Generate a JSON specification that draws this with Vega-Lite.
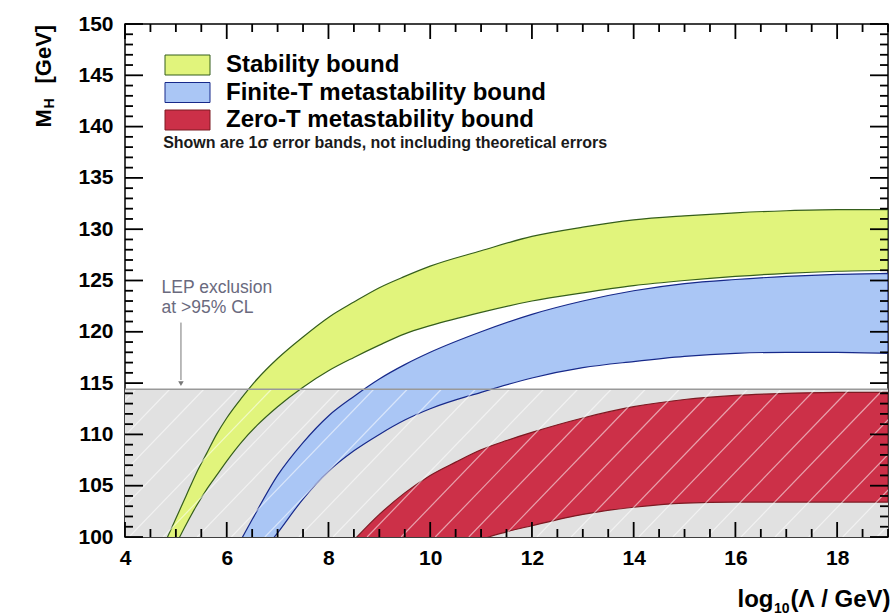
{
  "$schema": "https://vega.github.io/schema/vega-lite/v6.json",
  "width": 763,
  "height": 513,
  "autosize": {"type": "none"},
  "padding": {"left": 125, "top": 24, "right": 5, "bottom": 77},
  "background": "white",
  "config": {
    "font": "Liberation Sans",
    "view": {"stroke": "black", "strokeWidth": 1.5},
    "axis": {
      "labelFont": "Liberation Sans",
      "labelFontWeight": "bold",
      "labelFontSize": 21,
      "labelColor": "black",
      "titleFont": "Liberation Sans",
      "titleFontWeight": "bold",
      "titleFontSize": 22,
      "titleColor": "black",
      "domain": false,
      "grid": false,
      "ticks": false,
      "labelFlush": false,
      "labelOverlap": false,
      "labelBound": false,
      "zindex": 1
    }
  },
  "datasets": {
    "bands": [
      {"bound": "Stability bound", "log10_lambda": 4.8, "mh_low": 97.5, "mh_high": 99.6},
      {"bound": "Stability bound", "log10_lambda": 5.0, "mh_low": 99.3, "mh_high": 101.8},
      {"bound": "Stability bound", "log10_lambda": 5.2, "mh_low": 101.2, "mh_high": 104.0},
      {"bound": "Stability bound", "log10_lambda": 5.4, "mh_low": 103.0, "mh_high": 106.2},
      {"bound": "Stability bound", "log10_lambda": 5.6, "mh_low": 104.6, "mh_high": 108.1},
      {"bound": "Stability bound", "log10_lambda": 5.8, "mh_low": 106.0, "mh_high": 110.0},
      {"bound": "Stability bound", "log10_lambda": 6.0, "mh_low": 107.4, "mh_high": 111.6},
      {"bound": "Stability bound", "log10_lambda": 6.3, "mh_low": 109.3, "mh_high": 113.6},
      {"bound": "Stability bound", "log10_lambda": 6.6, "mh_low": 110.9, "mh_high": 115.4},
      {"bound": "Stability bound", "log10_lambda": 7.0, "mh_low": 112.7, "mh_high": 117.4},
      {"bound": "Stability bound", "log10_lambda": 7.5, "mh_low": 114.6, "mh_high": 119.5},
      {"bound": "Stability bound", "log10_lambda": 8.0, "mh_low": 116.2, "mh_high": 121.4},
      {"bound": "Stability bound", "log10_lambda": 8.5, "mh_low": 117.5, "mh_high": 122.9},
      {"bound": "Stability bound", "log10_lambda": 9.0, "mh_low": 118.7, "mh_high": 124.3},
      {"bound": "Stability bound", "log10_lambda": 9.5, "mh_low": 119.8, "mh_high": 125.4},
      {"bound": "Stability bound", "log10_lambda": 10.0, "mh_low": 120.6, "mh_high": 126.4},
      {"bound": "Stability bound", "log10_lambda": 11.0, "mh_low": 121.9, "mh_high": 127.9},
      {"bound": "Stability bound", "log10_lambda": 12.0, "mh_low": 123.0, "mh_high": 129.3},
      {"bound": "Stability bound", "log10_lambda": 13.0, "mh_low": 123.8, "mh_high": 130.2},
      {"bound": "Stability bound", "log10_lambda": 14.0, "mh_low": 124.5, "mh_high": 130.9},
      {"bound": "Stability bound", "log10_lambda": 15.0, "mh_low": 125.0, "mh_high": 131.3},
      {"bound": "Stability bound", "log10_lambda": 16.0, "mh_low": 125.4, "mh_high": 131.6},
      {"bound": "Stability bound", "log10_lambda": 17.0, "mh_low": 125.7, "mh_high": 131.8},
      {"bound": "Stability bound", "log10_lambda": 18.0, "mh_low": 125.9, "mh_high": 131.9},
      {"bound": "Stability bound", "log10_lambda": 19.0, "mh_low": 126.0, "mh_high": 131.9},
      {"bound": "Finite-T metastability bound", "log10_lambda": 6.3, "mh_low": 95.5, "mh_high": 99.9},
      {"bound": "Finite-T metastability bound", "log10_lambda": 6.5, "mh_low": 97.2, "mh_high": 101.7},
      {"bound": "Finite-T metastability bound", "log10_lambda": 7.0, "mh_low": 100.4, "mh_high": 106.0},
      {"bound": "Finite-T metastability bound", "log10_lambda": 7.5, "mh_low": 103.7, "mh_high": 109.2},
      {"bound": "Finite-T metastability bound", "log10_lambda": 8.0, "mh_low": 106.4, "mh_high": 111.8},
      {"bound": "Finite-T metastability bound", "log10_lambda": 8.5, "mh_low": 108.4, "mh_high": 113.7},
      {"bound": "Finite-T metastability bound", "log10_lambda": 9.0, "mh_low": 110.0, "mh_high": 115.4},
      {"bound": "Finite-T metastability bound", "log10_lambda": 9.5, "mh_low": 111.4, "mh_high": 116.8},
      {"bound": "Finite-T metastability bound", "log10_lambda": 10.0, "mh_low": 112.5, "mh_high": 118.0},
      {"bound": "Finite-T metastability bound", "log10_lambda": 11.0, "mh_low": 114.1, "mh_high": 120.0},
      {"bound": "Finite-T metastability bound", "log10_lambda": 12.0, "mh_low": 115.5, "mh_high": 121.7},
      {"bound": "Finite-T metastability bound", "log10_lambda": 13.0, "mh_low": 116.5, "mh_high": 123.0},
      {"bound": "Finite-T metastability bound", "log10_lambda": 14.0, "mh_low": 117.1, "mh_high": 124.0},
      {"bound": "Finite-T metastability bound", "log10_lambda": 15.0, "mh_low": 117.6, "mh_high": 124.7},
      {"bound": "Finite-T metastability bound", "log10_lambda": 16.0, "mh_low": 117.9, "mh_high": 125.1},
      {"bound": "Finite-T metastability bound", "log10_lambda": 17.0, "mh_low": 118.0, "mh_high": 125.4},
      {"bound": "Finite-T metastability bound", "log10_lambda": 18.0, "mh_low": 118.0, "mh_high": 125.6},
      {"bound": "Finite-T metastability bound", "log10_lambda": 19.0, "mh_low": 117.9, "mh_high": 125.7},
      {"bound": "Zero-T metastability bound", "log10_lambda": 8.5, "mh_low": 91.0, "mh_high": 99.7},
      {"bound": "Zero-T metastability bound", "log10_lambda": 9.0, "mh_low": 92.8, "mh_high": 102.2},
      {"bound": "Zero-T metastability bound", "log10_lambda": 9.5, "mh_low": 94.5, "mh_high": 104.3},
      {"bound": "Zero-T metastability bound", "log10_lambda": 10.0, "mh_low": 96.3, "mh_high": 106.0},
      {"bound": "Zero-T metastability bound", "log10_lambda": 10.5, "mh_low": 98.1, "mh_high": 107.3},
      {"bound": "Zero-T metastability bound", "log10_lambda": 11.0, "mh_low": 99.7, "mh_high": 108.5},
      {"bound": "Zero-T metastability bound", "log10_lambda": 11.5, "mh_low": 100.5, "mh_high": 109.4},
      {"bound": "Zero-T metastability bound", "log10_lambda": 12.0, "mh_low": 101.1, "mh_high": 110.2},
      {"bound": "Zero-T metastability bound", "log10_lambda": 13.0, "mh_low": 102.2, "mh_high": 111.6},
      {"bound": "Zero-T metastability bound", "log10_lambda": 14.0, "mh_low": 102.9, "mh_high": 112.7},
      {"bound": "Zero-T metastability bound", "log10_lambda": 15.0, "mh_low": 103.3, "mh_high": 113.4},
      {"bound": "Zero-T metastability bound", "log10_lambda": 16.0, "mh_low": 103.4, "mh_high": 113.8},
      {"bound": "Zero-T metastability bound", "log10_lambda": 17.0, "mh_low": 103.4, "mh_high": 114.0},
      {"bound": "Zero-T metastability bound", "log10_lambda": 18.0, "mh_low": 103.4, "mh_high": 114.1},
      {"bound": "Zero-T metastability bound", "log10_lambda": 19.0, "mh_low": 103.4, "mh_high": 114.1}
    ],
    "lep": [{"experiment": "LEP", "mh_floor": 100, "mh_limit": 114.4}],
    "hatch": [
      {"x_start": 1.41, "x_end": 4.21}, {"x_start": 2.08, "x_end": 4.88}, {"x_start": 2.75, "x_end": 5.55},
      {"x_start": 3.41, "x_end": 6.21}, {"x_start": 4.08, "x_end": 6.88}, {"x_start": 4.75, "x_end": 7.55},
      {"x_start": 5.42, "x_end": 8.22}, {"x_start": 6.09, "x_end": 8.89}, {"x_start": 6.75, "x_end": 9.55},
      {"x_start": 7.42, "x_end": 10.22}, {"x_start": 8.09, "x_end": 10.89}, {"x_start": 8.76, "x_end": 11.56},
      {"x_start": 9.43, "x_end": 12.23}, {"x_start": 10.10, "x_end": 12.90}, {"x_start": 10.76, "x_end": 13.56},
      {"x_start": 11.43, "x_end": 14.23}, {"x_start": 12.10, "x_end": 14.90}, {"x_start": 12.77, "x_end": 15.57},
      {"x_start": 13.44, "x_end": 16.24}, {"x_start": 14.10, "x_end": 16.90}, {"x_start": 14.77, "x_end": 17.57},
      {"x_start": 15.44, "x_end": 18.24}, {"x_start": 16.11, "x_end": 18.91}, {"x_start": 16.78, "x_end": 19.58},
      {"x_start": 17.44, "x_end": 20.24}, {"x_start": 18.11, "x_end": 20.91}, {"x_start": 18.78, "x_end": 21.58}
    ],
    "x_ticks": [
      {"log10_lambda": 4, "tick": "major"}, {"log10_lambda": 4.5, "tick": "minor"}, {"log10_lambda": 5, "tick": "minor"}, {"log10_lambda": 5.5, "tick": "minor"},
      {"log10_lambda": 6, "tick": "major"}, {"log10_lambda": 6.5, "tick": "minor"}, {"log10_lambda": 7, "tick": "minor"}, {"log10_lambda": 7.5, "tick": "minor"},
      {"log10_lambda": 8, "tick": "major"}, {"log10_lambda": 8.5, "tick": "minor"}, {"log10_lambda": 9, "tick": "minor"}, {"log10_lambda": 9.5, "tick": "minor"},
      {"log10_lambda": 10, "tick": "major"}, {"log10_lambda": 10.5, "tick": "minor"}, {"log10_lambda": 11, "tick": "minor"}, {"log10_lambda": 11.5, "tick": "minor"},
      {"log10_lambda": 12, "tick": "major"}, {"log10_lambda": 12.5, "tick": "minor"}, {"log10_lambda": 13, "tick": "minor"}, {"log10_lambda": 13.5, "tick": "minor"},
      {"log10_lambda": 14, "tick": "major"}, {"log10_lambda": 14.5, "tick": "minor"}, {"log10_lambda": 15, "tick": "minor"}, {"log10_lambda": 15.5, "tick": "minor"},
      {"log10_lambda": 16, "tick": "major"}, {"log10_lambda": 16.5, "tick": "minor"}, {"log10_lambda": 17, "tick": "minor"}, {"log10_lambda": 17.5, "tick": "minor"},
      {"log10_lambda": 18, "tick": "major"}, {"log10_lambda": 18.5, "tick": "minor"}, {"log10_lambda": 19, "tick": "minor"}
    ],
    "y_ticks": [
      {"mh": 100, "tick": "major"}, {"mh": 101, "tick": "minor"}, {"mh": 102, "tick": "minor"}, {"mh": 103, "tick": "minor"}, {"mh": 104, "tick": "minor"},
      {"mh": 105, "tick": "major"}, {"mh": 106, "tick": "minor"}, {"mh": 107, "tick": "minor"}, {"mh": 108, "tick": "minor"}, {"mh": 109, "tick": "minor"},
      {"mh": 110, "tick": "major"}, {"mh": 111, "tick": "minor"}, {"mh": 112, "tick": "minor"}, {"mh": 113, "tick": "minor"}, {"mh": 114, "tick": "minor"},
      {"mh": 115, "tick": "major"}, {"mh": 116, "tick": "minor"}, {"mh": 117, "tick": "minor"}, {"mh": 118, "tick": "minor"}, {"mh": 119, "tick": "minor"},
      {"mh": 120, "tick": "major"}, {"mh": 121, "tick": "minor"}, {"mh": 122, "tick": "minor"}, {"mh": 123, "tick": "minor"}, {"mh": 124, "tick": "minor"},
      {"mh": 125, "tick": "major"}, {"mh": 126, "tick": "minor"}, {"mh": 127, "tick": "minor"}, {"mh": 128, "tick": "minor"}, {"mh": 129, "tick": "minor"},
      {"mh": 130, "tick": "major"}, {"mh": 131, "tick": "minor"}, {"mh": 132, "tick": "minor"}, {"mh": 133, "tick": "minor"}, {"mh": 134, "tick": "minor"},
      {"mh": 135, "tick": "major"}, {"mh": 136, "tick": "minor"}, {"mh": 137, "tick": "minor"}, {"mh": 138, "tick": "minor"}, {"mh": 139, "tick": "minor"},
      {"mh": 140, "tick": "major"}, {"mh": 141, "tick": "minor"}, {"mh": 142, "tick": "minor"}, {"mh": 143, "tick": "minor"}, {"mh": 144, "tick": "minor"},
      {"mh": 145, "tick": "major"}, {"mh": 146, "tick": "minor"}, {"mh": 147, "tick": "minor"}, {"mh": 148, "tick": "minor"}, {"mh": 149, "tick": "minor"},
      {"mh": 150, "tick": "major"}
    ]
  },
  "resolve": {"axis": {"x": "independent", "y": "independent"}},
  "layer": [
    {
      "data": {"name": "lep"},
      "mark": {"type": "rect", "fill": "#e1e1e1"},
      "encoding": {
        "y": {"field": "mh_floor", "type": "quantitative", "scale": {"domain": [100, 150], "nice": false, "zero": false},
          "axis": {"orient": "left", "values": [100, 105, 110, 115, 120, 125, 130, 135, 140, 145, 150], "labelPadding": 12,
            "title": "M", "titleAngle": 270, "titleAlign": "left", "titleBaseline": "alphabetic", "titleX": -75, "titleY": 103}},
        "y2": {"field": "mh_limit"}
      }
    },
    {
      "data": {"name": "bands"},
      "mark": {"type": "area", "clip": true, "interpolate": "monotone", "strokeWidth": 1.2, "fillOpacity": 1},
      "encoding": {
        "x": {"field": "log10_lambda", "type": "quantitative", "scale": {"domain": [4, 19], "nice": false, "zero": false},
          "axis": {"orient": "bottom", "values": [4, 6, 8, 10, 12, 14, 16, 18], "labelPadding": 10,
            "title": "log", "titleFontSize": 24, "titleAngle": 0, "titleAlign": "right", "titleBaseline": "alphabetic", "titleX": 648, "titleY": 69}},
        "y": {"field": "mh_low", "type": "quantitative", "scale": {"domain": [100, 150], "nice": false, "zero": false},
          "axis": {"orient": "left", "values": [100], "labels": false,
            "title": "H", "titleFontSize": 14, "titleAngle": 270, "titleAlign": "left", "titleBaseline": "alphabetic", "titleX": -72, "titleY": 84}},
        "y2": {"field": "mh_high"},
        "fill": {"field": "bound", "type": "nominal",
          "scale": {"domain": ["Stability bound", "Finite-T metastability bound", "Zero-T metastability bound"], "range": ["#e1f47c", "#aac6f5", "#cc3048"]},
          "legend": {"orient": "none", "legendX": 50.5, "legendY": 29, "title": null, "padding": 0,
            "symbolType": "M-2.25,-1H2.25V1H-2.25Z", "symbolSize": 400, "symbolStrokeWidth": 1, "symbolOpacity": 1,
            "labelFont": "Liberation Sans", "labelFontSize": 24, "labelFontWeight": "bold", "labelColor": "black", "labelOffset": 26.5, "rowPadding": 3.5, "labelLimit": 500}},
        "stroke": {"field": "bound", "type": "nominal",
          "scale": {"domain": ["Stability bound", "Finite-T metastability bound", "Zero-T metastability bound"], "range": ["#355e1c", "#17298a", "#7c1a22"]},
          "legend": {"orient": "none", "legendX": 50.5, "legendY": 29, "title": null, "padding": 0,
            "symbolType": "M-2.25,-1H2.25V1H-2.25Z", "symbolSize": 400, "symbolStrokeWidth": 1, "symbolOpacity": 1,
            "labelFont": "Liberation Sans", "labelFontSize": 24, "labelFontWeight": "bold", "labelColor": "black", "labelOffset": 26.5, "rowPadding": 3.5, "labelLimit": 500}}
      }
    },
    {
      "data": {"name": "hatch"},
      "mark": {"type": "rule", "clip": true, "color": "white", "strokeWidth": 1.2, "opacity": 0.55},
      "encoding": {
        "x": {"field": "x_start", "type": "quantitative", "scale": {"domain": [4, 19], "nice": false, "zero": false},
          "axis": {"orient": "bottom", "values": [4], "labels": false,
            "title": "10", "titleFontSize": 14, "titleAngle": 0, "titleAlign": "right", "titleBaseline": "alphabetic", "titleX": 664, "titleY": 75}},
        "x2": {"field": "x_end"},
        "y": {"datum": 100, "type": "quantitative", "scale": {"domain": [100, 150], "nice": false, "zero": false},
          "axis": {"orient": "left", "values": [100], "labels": false,
            "title": "[GeV]", "titleAngle": 270, "titleAlign": "left", "titleBaseline": "alphabetic", "titleX": -75, "titleY": 59}},
        "y2": {"datum": 114.4}
      }
    },
    {
      "data": {"name": "lep"},
      "mark": {"type": "rule", "color": "#999999", "strokeWidth": 1.3},
      "encoding": {
        "y": {"field": "mh_limit", "type": "quantitative", "scale": {"domain": [100, 150], "nice": false, "zero": false}, "axis": null}
      }
    },
    {
      "data": {"name": "lep"},
      "mark": {"type": "rule", "color": "#777777", "strokeWidth": 1},
      "encoding": {
        "x": {"datum": 5.1, "type": "quantitative", "scale": {"domain": [4, 19], "nice": false, "zero": false},
          "axis": {"orient": "bottom", "values": [4], "labels": false,
            "title": "(Λ / GeV)", "titleFontSize": 24, "titleAngle": 0, "titleAlign": "right", "titleBaseline": "alphabetic", "titleX": 765, "titleY": 69}},
        "y": {"datum": 120.9, "type": "quantitative", "scale": {"domain": [100, 150], "nice": false, "zero": false}, "axis": null},
        "y2": {"datum": 115.3}
      }
    },
    {
      "data": {"name": "lep"},
      "mark": {"type": "point", "shape": "triangle-down", "filled": true, "color": "#777777", "size": 30, "opacity": 1},
      "encoding": {
        "x": {"datum": 5.1, "type": "quantitative", "scale": {"domain": [4, 19], "nice": false, "zero": false}, "axis": null},
        "y": {"datum": 114.95, "type": "quantitative", "scale": {"domain": [100, 150], "nice": false, "zero": false}, "axis": null}
      }
    },
    {
      "data": {"name": "x_ticks"},
      "transform": [{"filter": "datum.tick === 'major'"}],
      "mark": {"type": "point", "shape": "M0,0V-1", "filled": false, "color": "black", "strokeWidth": 1.8, "size": 900, "opacity": 1},
      "encoding": {
        "x": {"field": "log10_lambda", "type": "quantitative", "scale": {"domain": [4, 19], "nice": false, "zero": false}, "axis": null},
        "y": {"datum": 100, "type": "quantitative", "scale": {"domain": [100, 150], "nice": false, "zero": false}, "axis": null}
      }
    },
    {
      "data": {"name": "x_ticks"},
      "transform": [{"filter": "datum.tick === 'minor'"}],
      "mark": {"type": "point", "shape": "M0,0V-1", "filled": false, "color": "black", "strokeWidth": 1.8, "size": 256, "opacity": 1},
      "encoding": {
        "x": {"field": "log10_lambda", "type": "quantitative", "scale": {"domain": [4, 19], "nice": false, "zero": false}, "axis": null},
        "y": {"datum": 100, "type": "quantitative", "scale": {"domain": [100, 150], "nice": false, "zero": false}, "axis": null}
      }
    },
    {
      "data": {"name": "x_ticks"},
      "transform": [{"filter": "datum.tick === 'major'"}],
      "mark": {"type": "point", "shape": "M0,0V1", "filled": false, "color": "black", "strokeWidth": 1.8, "size": 900, "opacity": 1},
      "encoding": {
        "x": {"field": "log10_lambda", "type": "quantitative", "scale": {"domain": [4, 19], "nice": false, "zero": false}, "axis": null},
        "y": {"datum": 150, "type": "quantitative", "scale": {"domain": [100, 150], "nice": false, "zero": false}, "axis": null}
      }
    },
    {
      "data": {"name": "x_ticks"},
      "transform": [{"filter": "datum.tick === 'minor'"}],
      "mark": {"type": "point", "shape": "M0,0V1", "filled": false, "color": "black", "strokeWidth": 1.8, "size": 256, "opacity": 1},
      "encoding": {
        "x": {"field": "log10_lambda", "type": "quantitative", "scale": {"domain": [4, 19], "nice": false, "zero": false}, "axis": null},
        "y": {"datum": 150, "type": "quantitative", "scale": {"domain": [100, 150], "nice": false, "zero": false}, "axis": null}
      }
    },
    {
      "data": {"name": "y_ticks"},
      "transform": [{"filter": "datum.tick === 'major'"}],
      "mark": {"type": "point", "shape": "M0,0H1", "filled": false, "color": "black", "strokeWidth": 1.8, "size": 1296, "opacity": 1},
      "encoding": {
        "y": {"field": "mh", "type": "quantitative", "scale": {"domain": [100, 150], "nice": false, "zero": false}, "axis": null},
        "x": {"datum": 4, "type": "quantitative", "scale": {"domain": [4, 19], "nice": false, "zero": false}, "axis": null}
      }
    },
    {
      "data": {"name": "y_ticks"},
      "transform": [{"filter": "datum.tick === 'minor'"}],
      "mark": {"type": "point", "shape": "M0,0H1", "filled": false, "color": "black", "strokeWidth": 1.8, "size": 256, "opacity": 1},
      "encoding": {
        "y": {"field": "mh", "type": "quantitative", "scale": {"domain": [100, 150], "nice": false, "zero": false}, "axis": null},
        "x": {"datum": 4, "type": "quantitative", "scale": {"domain": [4, 19], "nice": false, "zero": false}, "axis": null}
      }
    },
    {
      "data": {"name": "y_ticks"},
      "transform": [{"filter": "datum.tick === 'major'"}],
      "mark": {"type": "point", "shape": "M0,0H-1", "filled": false, "color": "black", "strokeWidth": 1.8, "size": 1296, "opacity": 1},
      "encoding": {
        "y": {"field": "mh", "type": "quantitative", "scale": {"domain": [100, 150], "nice": false, "zero": false}, "axis": null},
        "x": {"datum": 19, "type": "quantitative", "scale": {"domain": [4, 19], "nice": false, "zero": false}, "axis": null}
      }
    },
    {
      "data": {"name": "y_ticks"},
      "transform": [{"filter": "datum.tick === 'minor'"}],
      "mark": {"type": "point", "shape": "M0,0H-1", "filled": false, "color": "black", "strokeWidth": 1.8, "size": 256, "opacity": 1},
      "encoding": {
        "y": {"field": "mh", "type": "quantitative", "scale": {"domain": [100, 150], "nice": false, "zero": false}, "axis": null},
        "x": {"datum": 19, "type": "quantitative", "scale": {"domain": [4, 19], "nice": false, "zero": false}, "axis": null}
      }
    },
    {
      "data": {"name": "lep"},
      "mark": {"type": "text", "text": ["LEP exclusion", "at >95% CL"], "align": "left", "baseline": "alphabetic",
        "font": "Liberation Sans", "fontSize": 17.5, "lineHeight": 20, "color": "#6a6a7e"},
      "encoding": {
        "x": {"datum": 4.72, "type": "quantitative", "scale": {"domain": [4, 19], "nice": false, "zero": false}, "axis": null},
        "y": {"datum": 123.8, "type": "quantitative", "scale": {"domain": [100, 150], "nice": false, "zero": false}, "axis": null}
      }
    },
    {
      "data": {"name": "lep"},
      "mark": {"type": "text", "text": "Shown are 1σ error bands, not including theoretical errors", "align": "left", "baseline": "alphabetic",
        "font": "Liberation Sans", "fontSize": 16, "fontWeight": "bold", "color": "#1a1a1a"},
      "encoding": {
        "x": {"datum": 4.75, "type": "quantitative", "scale": {"domain": [4, 19], "nice": false, "zero": false}, "axis": null},
        "y": {"datum": 137.9, "type": "quantitative", "scale": {"domain": [100, 150], "nice": false, "zero": false}, "axis": null}
      }
    }
  ]
}
